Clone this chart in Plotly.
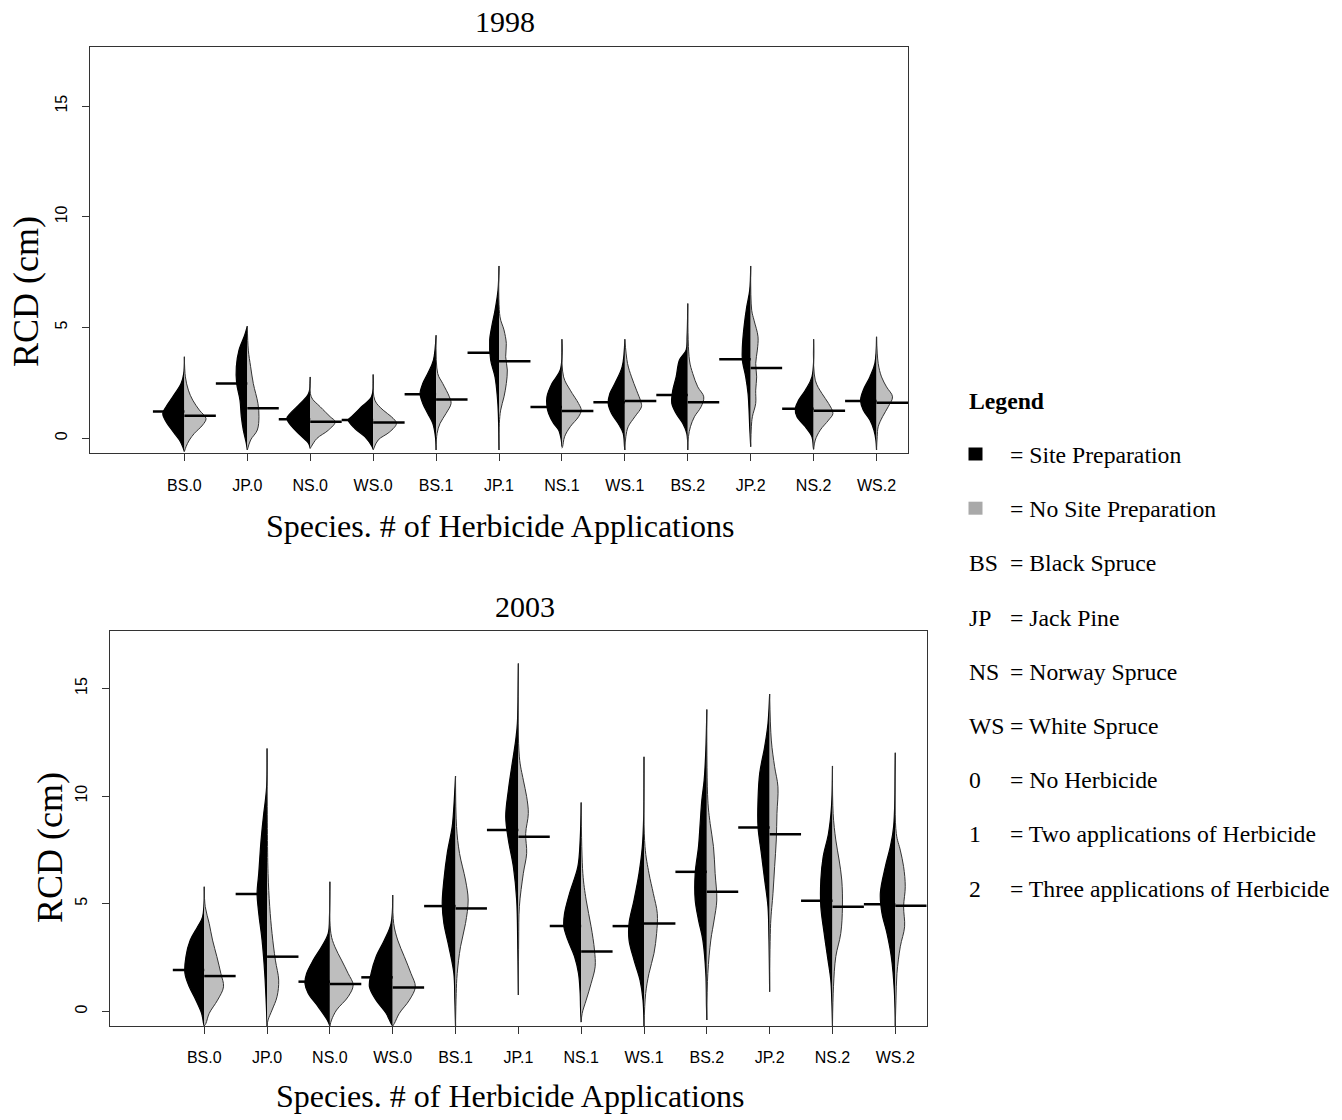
import plotly.graph_objects as go

# ---------------------------------------------------------------------------
# Data: root collar diameter (RCD, cm) by species x number of herbicide
# applications, split by site preparation (SP) vs no site preparation (NSP).
# ---------------------------------------------------------------------------
GROUPS = ["BS.0", "JP.0", "NS.0", "WS.0", "BS.1", "JP.1",
          "NS.1", "WS.1", "BS.2", "JP.2", "NS.2", "WS.2"]

# group means (bean lines)
MEAN_SP_1998 = [1.21, 2.47, 0.86, 0.82, 1.99, 3.86, 1.41, 1.62, 1.95, 3.57, 1.33, 1.68]
MEAN_NSP_1998 = [1.02, 1.35, 0.74, 0.71, 1.75, 3.48, 1.23, 1.68, 1.63, 3.17, 1.24, 1.60]
MEAN_SP_2003 = [1.92, 5.45, 1.38, 1.58, 4.89, 8.42, 3.96, 3.96, 6.48, 8.54, 5.14, 4.97]
MEAN_NSP_2003 = [1.64, 2.54, 1.27, 1.11, 4.78, 8.11, 2.78, 4.08, 5.56, 8.23, 4.86, 4.91]

# kernel density profiles: (RCD level, relative density) from min to max
DENS_SP_1998 = [
    [(-0.6, 0), (-0.38, 5), (-0.08, 15), (0.22, 30), (0.52, 45), (0.82, 58), (1.12, 65), (1.42, 55), (1.87, 35), (2.47, 10), (2.92, 2), (3.68, 0)],
    [(-0.53, 0), (-0.23, 3), (0.37, 12), (0.97, 18), (1.72, 22), (2.47, 32), (3.23, 33), (3.98, 25), (4.65, 8), (5.06, 0)],
    [(-0.46, 0), (-0.23, 5), (0.14, 30), (0.52, 55), (0.89, 70), (1.12, 60), (1.57, 30), (2.02, 5), (2.77, 0)],
    [(-0.5, 0), (-0.38, 3), (0.07, 25), (0.44, 55), (0.82, 75), (0.97, 65), (1.42, 35), (1.87, 5), (2.88, 0)],
    [(-0.53, 0), (0.07, 2), (0.67, 10), (1.12, 25), (1.57, 40), (2.02, 48), (2.47, 40), (2.92, 25), (3.53, 8), (4.65, 0)],
    [(-0.53, 0), (1.12, 2), (1.87, 5), (2.77, 12), (3.53, 25), (4.43, 28), (5.03, 22), (5.78, 12), (6.68, 3), (7.78, 0)],
    [(-0.38, 0), (-0.08, 2), (0.37, 10), (0.67, 25), (1.12, 40), (1.42, 45), (1.87, 45), (2.47, 30), (3.08, 5), (4.47, 0)],
    [(-0.53, 0), (-0.38, 1), (0.22, 5), (0.67, 20), (1.12, 40), (1.57, 50), (2.02, 45), (2.47, 30), (3.23, 8), (4.47, 0)],
    [(-0.53, 0), (0.22, 3), (0.67, 15), (1.12, 35), (1.57, 48), (2.17, 45), (2.77, 35), (3.53, 25), (3.98, 5), (4.58, 2), (6.08, 0)],
    [(-0.38, 0), (0.52, 3), (1.27, 5), (2.02, 8), (2.77, 15), (3.53, 25), (4.13, 25), (5.03, 20), (5.93, 12), (6.68, 3), (7.78, 0)],
    [(-0.5, 0), (-0.38, 1), (0.07, 5), (0.52, 25), (0.97, 50), (1.35, 55), (1.72, 45), (2.17, 25), (2.77, 5), (4.47, 0)],
    [(-0.53, 0), (-0.08, 2), (0.37, 8), (0.82, 20), (1.27, 40), (1.72, 48), (2.17, 40), (2.77, 20), (3.38, 5), (4.58, 0)],
]
DENS_NSP_1998 = [
    [(-0.6, 0), (-0.38, 5), (-0.08, 15), (0.22, 30), (0.6, 55), (0.89, 65), (1.27, 45), (1.72, 25), (2.17, 12), (2.77, 3), (3.68, 0)],
    [(-0.53, 0), (-0.08, 10), (0.37, 30), (0.97, 35), (1.57, 32), (2.47, 18), (3.23, 10), (3.98, 3), (5.06, 0)],
    [(-0.46, 0), (-0.38, 3), (-0.01, 20), (0.37, 55), (0.74, 75), (0.97, 60), (1.42, 30), (1.87, 3), (2.77, 0)],
    [(-0.53, 0), (-0.08, 15), (0.29, 50), (0.67, 70), (0.97, 55), (1.27, 30), (1.72, 5), (2.88, 0)],
    [(-0.53, 0), (0.22, 3), (0.67, 12), (1.12, 30), (1.57, 45), (1.87, 40), (2.47, 20), (2.92, 5), (4.65, 0)],
    [(-0.53, 0), (0.67, 1), (1.27, 5), (1.87, 15), (2.47, 22), (3.08, 25), (3.68, 20), (4.28, 22), (4.89, 15), (5.48, 3), (7.78, 0)],
    [(-0.45, 0), (-0.38, 2), (0.07, 8), (0.52, 25), (0.97, 50), (1.27, 58), (1.57, 50), (2.17, 25), (2.77, 5), (4.47, 0)],
    [(-0.53, 0), (0.07, 3), (0.52, 10), (0.97, 30), (1.42, 50), (1.65, 48), (2.17, 35), (2.77, 20), (3.38, 8), (4.47, 0)],
    [(-0.53, 0), (0.07, 2), (0.52, 8), (0.97, 20), (1.42, 40), (1.87, 48), (2.32, 30), (2.92, 15), (3.53, 5), (6.08, 0)],
    [(-0.38, 0), (0.52, 2), (0.97, 5), (1.57, 15), (2.17, 15), (2.77, 18), (3.38, 15), (3.98, 20), (4.58, 22), (5.33, 10), (5.78, 3), (7.78, 0)],
    [(-0.5, 0), (-0.08, 5), (0.37, 20), (0.82, 45), (1.12, 58), (1.57, 45), (2.02, 25), (2.62, 5), (4.47, 0)],
    [(-0.53, 0), (0.07, 2), (0.52, 5), (0.97, 18), (1.42, 35), (1.87, 48), (2.32, 30), (2.77, 15), (3.38, 5), (4.58, 0)],
]
DENS_SP_2003 = [
    [(-0.68, 0), (-0.56, 2), (-0.09, 8), (0.52, 25), (1.14, 45), (1.76, 58), (2.54, 55), (3.31, 42), (3.93, 20), (4.39, 5), (5.79, 0)],
    [(-0.68, 0), (0.21, 2), (1.76, 7), (3.31, 15), (4.55, 25), (5.48, 30), (6.41, 25), (7.96, 18), (9.19, 10), (9.81, 5), (10.5, 1), (12.21, 0)],
    [(-0.68, 0), (-0.40, 8), (0.21, 35), (0.83, 65), (1.30, 75), (1.76, 70), (2.38, 50), (3.00, 25), (3.62, 5), (4.5, 1), (6.02, 0)],
    [(-0.68, 0), (-0.56, 5), (-0.09, 20), (0.52, 50), (1.14, 70), (1.76, 65), (2.54, 50), (3.31, 25), (4.08, 5), (5.40, 0)],
    [(-0.68, 0), (0.52, 2), (1.76, 5), (3.00, 20), (4.08, 35), (5.01, 40), (6.10, 35), (7.34, 25), (8.58, 10), (9.50, 5), (10.93, 0)],
    [(0.76, 0), (3.31, 2), (5.17, 5), (6.72, 15), (7.96, 30), (9.04, 38), (10.28, 30), (11.36, 20), (12.60, 8), (13.37, 3), (16.16, 0)],
    [(-0.5, 0), (0.21, 2), (0.83, 3), (1.76, 8), (2.54, 20), (3.31, 40), (3.93, 52), (4.55, 50), (5.48, 35), (6.72, 10), (7.96, 3), (9.70, 0)],
    [(-0.68, 0), (0.52, 3), (1.45, 12), (2.38, 30), (3.31, 45), (4.08, 45), (5.17, 30), (6.41, 15), (7.65, 5), (9.0, 1), (11.82, 0)],
    [(-0.40, 0), (0.21, 1), (1.76, 3), (3.31, 12), (4.24, 25), (5.17, 35), (6.41, 35), (7.65, 25), (8.73, 20), (9.81, 15), (10.74, 8), (12.13, 3), (14.02, 0)],
    [(0.91, 0), (3.31, 2), (4.86, 5), (6.10, 15), (7.34, 25), (8.58, 35), (9.81, 35), (11.05, 30), (12.29, 15), (13.37, 5), (14.74, 0)],
    [(-0.68, 0), (0.5, 2), (1.45, 5), (2.54, 15), (3.62, 25), (4.86, 35), (6.10, 35), (7.18, 28), (8.26, 12), (9.50, 3), (11.40, 0)],
    [(-0.68, 0), (0.99, 3), (2.54, 12), (3.62, 25), (4.55, 40), (5.48, 45), (6.72, 30), (7.65, 15), (8.58, 5), (12.01, 0)],
]
DENS_NSP_2003 = [
    [(-0.68, 0), (-0.56, 5), (-0.09, 15), (0.52, 40), (1.14, 58), (1.76, 50), (2.54, 38), (3.31, 25), (4.08, 15), (4.86, 3), (5.79, 0)],
    [(-0.68, 0), (-0.40, 3), (0.06, 15), (0.68, 30), (1.45, 35), (2.38, 25), (3.62, 15), (4.86, 8), (6.41, 3), (8.5, 1), (12.21, 0)],
    [(-0.68, 0), (-0.40, 5), (0.06, 20), (0.68, 55), (1.22, 70), (1.76, 55), (2.38, 35), (3.00, 15), (3.62, 3), (6.02, 0)],
    [(-0.68, 0), (-0.56, 5), (-0.09, 20), (0.52, 50), (1.14, 68), (1.76, 55), (2.54, 35), (3.31, 15), (4.08, 3), (5.40, 0)],
    [(-0.68, 0), (0.83, 2), (1.76, 5), (3.00, 15), (4.08, 30), (5.17, 38), (6.10, 30), (7.34, 12), (8.58, 3), (10.93, 0)],
    [(0.76, 0), (3.31, 1), (4.86, 3), (6.41, 15), (7.34, 25), (8.26, 22), (9.19, 30), (9.97, 25), (10.74, 15), (11.82, 3), (16.16, 0)],
    [(-0.5, 0), (-0.09, 3), (0.52, 15), (1.30, 30), (2.07, 42), (2.85, 40), (3.93, 30), (5.17, 15), (6.41, 5), (9.70, 0)],
    [(-0.68, 0), (0.83, 5), (1.76, 15), (2.69, 30), (3.62, 38), (4.55, 40), (5.48, 28), (6.41, 15), (7.65, 3), (11.82, 0)],
    [(-0.40, 0), (1.76, 3), (3.31, 12), (4.24, 22), (5.17, 30), (6.41, 25), (7.65, 20), (8.73, 10), (9.81, 3), (14.02, 0)],
    [(0.91, 0), (4.08, 3), (5.48, 10), (6.72, 15), (7.96, 20), (9.19, 22), (10.43, 25), (11.36, 15), (12.60, 5), (14.74, 0)],
    [(-0.68, 0), (1.14, 3), (2.54, 10), (3.62, 25), (4.86, 30), (6.10, 28), (7.03, 20), (7.96, 10), (9.19, 2), (11.40, 0)],
    [(-0.68, 0), (0.52, 2), (1.76, 5), (3.00, 15), (3.93, 28), (4.86, 25), (5.79, 30), (6.72, 25), (7.49, 15), (8.26, 3), (12.01, 0)],
]

LEGEND_KEYS = ["", "", "BS", "JP", "NS", "WS", "0", "1", "2"]
LEGEND_TEXT = ["= Site Preparation", "= No Site Preparation", "= Black Spruce",
               "= Jack Pine", "= Norway Spruce", "= White Spruce", "= No Herbicide",
               "= Two applications of Herbicide", "= Three applications of Herbicide"]

# ---------------------------------------------------------------------------
# Styling / layout constants
# ---------------------------------------------------------------------------
W, H = 1342, 1120
SERIF = "Liberation Serif, Times New Roman, serif"
SANS = "Liberation Sans, Arial, Helvetica, sans-serif"
DENSITY_SCALE = 1 / 189.0   # relative density -> half-width in category units
BEANLINE = 0.5              # length of each mean line
SP_FILL, NSP_FILL = "black", "#BEBEBE"
Y_RANGE = [-0.68, 17.68]
X_RANGE = [-0.5, 12.5]


def px_x(x):
    return x / W


def px_y(y):
    return 1 - y / H


PANELS = [
    dict(title="1998", sp=DENS_SP_1998, nsp=DENS_NSP_1998, msp=MEAN_SP_1998, mnsp=MEAN_NSP_1998,
         xa="x", ya="y", xdom=[90, 908], ydom=[46.7, 453.3],
         title_xy=(505, 21), xlab_xy=(500, 526), ylab_xy=(26, 292)),
    dict(title="2003", sp=DENS_SP_2003, nsp=DENS_NSP_2003, msp=MEAN_SP_2003, mnsp=MEAN_NSP_2003,
         xa="x2", ya="y2", xdom=[110, 926.7], ydom=[630.7, 1026],
         title_xy=(525, 606), xlab_xy=(510, 1096), ylab_xy=(50, 848)),
]


def half_bean(center, profile, side):
    xs = [center + side * d * DENSITY_SCALE for _, d in profile]
    ys = [lvl for lvl, _ in profile]
    return xs, ys


fig = go.Figure()
annotations = []
shapes = []

for p in PANELS:
    positions = list(range(1, len(GROUPS) + 1))
    # left halves: site preparation (black)
    for pos, prof in zip(positions, p["sp"]):
        xs, ys = half_bean(pos, prof, -1)
        fig.add_trace(go.Scatter(x=xs, y=ys, xaxis=p["xa"], yaxis=p["ya"], mode="lines",
                                 line=dict(color="black", width=1.2, shape="spline", smoothing=1.0),
                                 fill="toself", fillcolor=SP_FILL, hoverinfo="skip", showlegend=False))
    # right halves: no site preparation (grey)
    for pos, prof in zip(positions, p["nsp"]):
        xs, ys = half_bean(pos, prof, +1)
        fig.add_trace(go.Scatter(x=xs, y=ys, xaxis=p["xa"], yaxis=p["ya"], mode="lines",
                                 line=dict(color="#333333", width=1, shape="spline", smoothing=1.0),
                                 fill="toself", fillcolor=NSP_FILL, hoverinfo="skip", showlegend=False))
    # mean lines
    for pos, m1, m2 in zip(positions, p["msp"], p["mnsp"]):
        fig.add_trace(go.Scatter(x=[pos - BEANLINE, pos], y=[m1, m1], xaxis=p["xa"], yaxis=p["ya"],
                                 mode="lines", line=dict(color="black", width=2.5),
                                 hoverinfo="skip", showlegend=False))
        fig.add_trace(go.Scatter(x=[pos, pos + BEANLINE], y=[m2, m2], xaxis=p["xa"], yaxis=p["ya"],
                                 mode="lines", line=dict(color="black", width=2.5),
                                 hoverinfo="skip", showlegend=False))

    tx, ty = p["title_xy"]
    annotations.append(dict(text=p["title"], x=px_x(tx), y=px_y(ty), xref="paper", yref="paper",
                            xanchor="center", yanchor="middle", showarrow=False,
                            font=dict(family=SERIF, size=30, color="black")))
    lx, ly = p["xlab_xy"]
    annotations.append(dict(text="Species. # of Herbicide Applications", x=px_x(lx), y=px_y(ly),
                            xref="paper", yref="paper", xanchor="center", yanchor="middle",
                            showarrow=False, font=dict(family=SERIF, size=32, color="black")))
    yx, yy = p["ylab_xy"]
    annotations.append(dict(text="RCD (cm)", x=px_x(yx), y=px_y(yy), xref="paper", yref="paper",
                            xanchor="center", yanchor="middle", textangle=-90, showarrow=False,
                            font=dict(family=SERIF, size=36, color="black")))

axis_common = dict(showgrid=False, zeroline=False, showline=True, mirror=True,
                   linecolor="#333333", linewidth=1, ticks="outside", ticklen=7,
                   tickcolor="#333333", tickwidth=1,
                   tickfont=dict(family=SANS, size=16, color="black"))

layout_axes = {}
for i, p in enumerate(PANELS):
    sfx = "" if i == 0 else str(i + 1)
    layout_axes["xaxis" + sfx] = dict(
        axis_common, domain=[px_x(p["xdom"][0]), px_x(p["xdom"][1])], range=X_RANGE,
        tickmode="array", tickvals=list(range(1, len(GROUPS) + 1)), ticktext=GROUPS,
        anchor="y" + sfx, ticklabelstandoff=10)
    layout_axes["yaxis" + sfx] = dict(
        axis_common, domain=[px_y(p["ydom"][1]), px_y(p["ydom"][0])], range=Y_RANGE,
        tickmode="array", tickvals=[0, 5, 10, 15], tickangle=-90,
        anchor="x" + sfx, ticklabelstandoff=9)

# text legend on the right
LEG_X_KEY, LEG_X_EQ = 966.7, 1008.3
LEG_Y0, LEG_DY = 455, 54.2
annotations.append(dict(text="<b>Legend</b>", x=px_x(LEG_X_KEY), y=px_y(LEG_Y0 - LEG_DY),
                        xref="paper", yref="paper", xanchor="left", yanchor="middle",
                        showarrow=False, font=dict(family=SERIF, size=23.7, color="black")))
for k, (key, txt) in enumerate(zip(LEGEND_KEYS, LEGEND_TEXT)):
    yc = LEG_Y0 + k * LEG_DY
    if key:
        annotations.append(dict(text=key, x=px_x(LEG_X_KEY), y=px_y(yc), xref="paper", yref="paper",
                                xanchor="left", yanchor="middle", showarrow=False,
                                font=dict(family=SERIF, size=23.7, color="black")))
    annotations.append(dict(text=txt, x=px_x(LEG_X_EQ), y=px_y(yc), xref="paper", yref="paper",
                            xanchor="left", yanchor="middle", showarrow=False,
                            font=dict(family=SERIF, size=23.7, color="black")))

for k, col in enumerate([SP_FILL, "#A9A9A9"]):
    yc = LEG_Y0 + k * LEG_DY - 1
    shapes.append(dict(type="rect", xref="paper", yref="paper",
                       x0=px_x(968.5), x1=px_x(982.5), y0=px_y(yc + 6.5), y1=px_y(yc - 6.5),
                       fillcolor=col, line=dict(width=0)))

fig.update_layout(
    width=W, height=H, margin=dict(l=0, r=0, t=0, b=0, pad=0),
    paper_bgcolor="white", plot_bgcolor="white",
    showlegend=False, annotations=annotations, shapes=shapes,
    **layout_axes,
)

fig.write_html("out.html")
